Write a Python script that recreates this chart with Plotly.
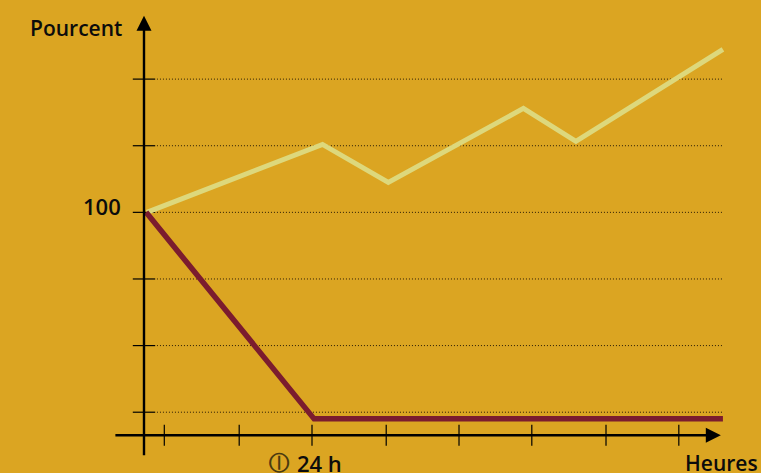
import plotly.graph_objects as go

# Data (hours, percent)
hours_up = [0.4, 25.5, 34.9, 54.2, 61.7, 82.7]
pct_up = [100, 120.4, 109, 131.2, 121.3, 148.9]
hours_down = [0.3, 24.3, 82.7]
pct_down = [100, 38, 38]
x_ticks = [2.9, 13.6, 24, 34.6, 45, 55.4, 66, 76.4]
y_ticks = [40, 60, 80, 100, 120, 140]

BG = "#DBA522"
FONT = "Open Sans, Noto Sans, sans-serif"
INK = "#0c0c0c"

X_RANGE = [-20.57, 88.14]
Y_RANGE = [21.75, 163.75]
AXIS_X = 0
AXIS_Y = 33.1

fig = go.Figure()

# dotted gridlines
for v in y_ticks:
    fig.add_shape(type="line", x0=1.85, x1=82.6, y0=v, y1=v, layer="below",
                  line=dict(color="#2a1c05", width=1, dash="1px,2px"))

# main axes with arrow heads
fig.add_annotation(x=82.4, y=AXIS_Y, ax=-4.3, ay=AXIS_Y, xref="x", yref="y", axref="x", ayref="y",
                   text="", showarrow=True, arrowhead=2, arrowsize=1.25, arrowwidth=2.4, arrowcolor="#000")
fig.add_annotation(x=AXIS_X, y=159.0, ax=AXIS_X, ay=26.6, xref="x", yref="y", axref="x", ayref="y",
                   text="", showarrow=True, arrowhead=2, arrowsize=1.25, arrowwidth=2.4, arrowcolor="#000")

# tick marks
fig.add_trace(go.Scatter(x=x_ticks, y=[AXIS_Y] * len(x_ticks), mode="markers", hoverinfo="skip",
                         marker=dict(symbol="line-ns", size=15, line=dict(color="#000", width=1.2))))
fig.add_trace(go.Scatter(x=[AXIS_X] * len(y_ticks), y=y_ticks, mode="markers", hoverinfo="skip",
                         marker=dict(symbol="line-ew", size=16, line=dict(color="#000", width=1.2))))

# series
fig.add_trace(go.Scatter(x=hours_up, y=pct_up, mode="lines",
                         line=dict(color="#DDD87C", width=5, shape="linear")))
fig.add_trace(go.Scatter(x=hours_down, y=pct_down, mode="lines",
                         line=dict(color="#7B1C2E", width=5.5, shape="linear")))

# texts
def label(x, y, text, anchor, size=21, family=FONT, color=INK, weight=600):
    fig.add_annotation(x=x, y=y, xref="x", yref="y", text=text, showarrow=False, xanchor=anchor,
                       yanchor="middle", font=dict(family=family, size=size, color=color, weight=weight))

label(-2.8, 155.4, "Pourcent", "right")
label(-3.0, 101.8, "100", "right", 22)
label(19.4, 25.1, "⦶", "center", 29, "DejaVu Sans", "#4a3a10", 400)
label(28.5, 24.9, "24 h", "right", 22)
label(88.0, 24.9, "Heures", "right")

fig.update_layout(
    width=761, height=473, margin=dict(l=0, r=0, t=0, b=0),
    paper_bgcolor=BG, plot_bgcolor=BG, showlegend=False,
    xaxis=dict(range=X_RANGE, visible=False, fixedrange=True),
    yaxis=dict(range=Y_RANGE, visible=False, fixedrange=True),
)
fig.write_html("out.html", config={"displayModeBar": False},
               post_script="document.body.style.margin='0';document.body.style.background='%s';" % BG)
